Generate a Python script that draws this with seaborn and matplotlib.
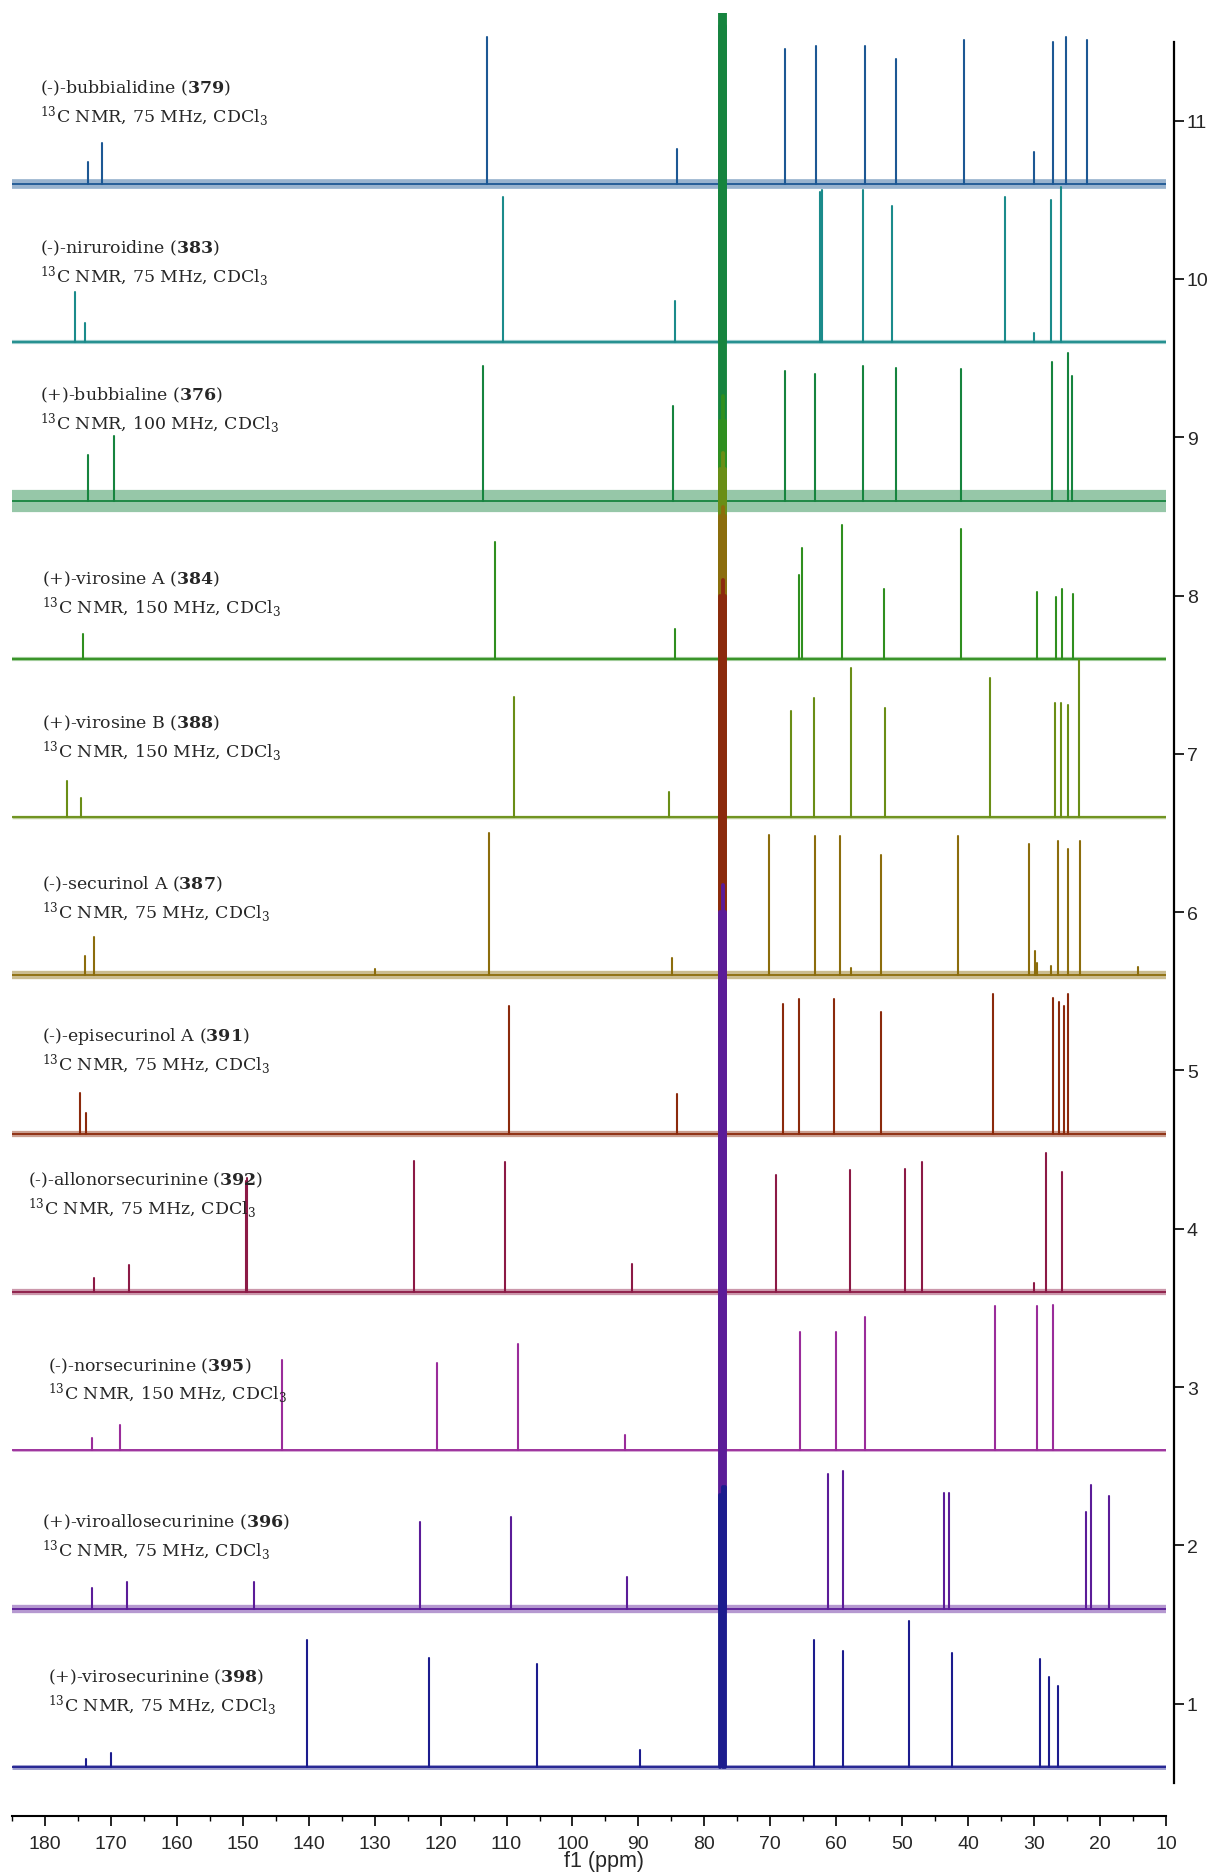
import numpy as np
import pandas as pd
import matplotlib
matplotlib.use("Agg")
import matplotlib.pyplot as plt
from matplotlib.ticker import MultipleLocator
import seaborn as sns

# --- spectra, top to bottom ---
COMPOUNDS = ["379", "383", "376", "384", "388", "387", "391", "392", "395", "396", "398"]
NAMES = ["(-)-bubbialidine", "(-)-niruroidine", "(+)-bubbialine", "(+)-virosine A",
         "(+)-virosine B", "(-)-securinol A", "(-)-episecurinol A", "(-)-allonorsecurinine",
         "(-)-norsecurinine", "(+)-viroallosecurinine", "(+)-virosecurinine"]
FREQS = [75, 75, 100, 150, 150, 75, 75, 75, 150, 75, 75]
OFFSETS = [10.6, 9.6, 8.6, 7.6, 6.6, 5.6, 4.6, 3.6, 2.6, 1.6, 0.6]

# peak positions (ppm) and intensities (above own baseline)
PPM_379 = [173.5, 171.3, 113.0, 84.2, 67.7, 63.0, 55.7, 51.0, 40.7, 30.0, 27.1, 25.2, 21.9]
H_379 = [0.14, 0.26, 0.93, 0.22, 0.85, 0.87, 0.87, 0.79, 0.91, 0.20, 0.90, 0.93, 0.91]

PPM_383 = [175.5, 174.0, 110.6, 84.5, 62.5, 62.2, 55.9, 51.6, 34.4, 30.0, 27.5, 25.9]
H_383 = [0.32, 0.12, 0.92, 0.26, 0.95, 0.96, 0.96, 0.86, 0.92, 0.06, 0.90, 0.98]

PPM_376 = [173.5, 169.5, 113.5, 84.7, 67.7, 63.2, 55.9, 51.0, 41.1, 27.3, 24.9, 24.3]
H_376 = [0.29, 0.41, 0.85, 0.60, 0.82, 0.80, 0.85, 0.84, 0.83, 0.875, 0.935, 0.79]

PPM_384 = [174.2, 111.7, 84.5, 65.6, 65.2, 59.2, 52.8, 41.1, 29.5, 26.7, 25.8, 24.1]
H_384 = [0.16, 0.74, 0.19, 0.53, 0.70, 0.845, 0.44, 0.82, 0.42, 0.39, 0.44, 0.41]

PPM_388 = [176.7, 174.6, 108.8, 85.3, 66.8, 63.3, 57.7, 52.6, 36.7, 26.8, 25.9, 24.8, 23.2]
H_388 = [0.23, 0.12, 0.76, 0.16, 0.67, 0.75, 0.94, 0.69, 0.88, 0.72, 0.72, 0.71, 0.99]

PPM_387 = [174.0, 172.6, 130.0, 112.6, 84.9, 70.2, 63.2, 59.4, 57.7, 53.2, 41.6, 30.8,
           29.9, 29.5, 27.5, 26.4, 24.85, 23.1, 14.3]
H_387 = [0.12, 0.24, 0.04, 0.90, 0.11, 0.89, 0.88, 0.88, 0.05, 0.76, 0.88, 0.83,
         0.155, 0.08, 0.06, 0.85, 0.80, 0.85, 0.055]

PPM_391 = [174.7, 173.8, 109.7, 84.2, 68.0, 65.7, 60.3, 53.2, 36.2, 27.1, 26.2, 25.4, 24.85]
H_391 = [0.26, 0.13, 0.81, 0.25, 0.82, 0.85, 0.85, 0.77, 0.88, 0.86, 0.83, 0.81, 0.88]

PPM_392 = [172.6, 167.3, 149.5, 149.3, 124.0, 110.3, 90.9, 69.1, 57.9, 49.6, 47.0, 30.0, 28.2, 25.8]
H_392 = [0.09, 0.17, 0.70, 0.72, 0.83, 0.82, 0.18, 0.74, 0.77, 0.78, 0.82, 0.06, 0.88, 0.76]

PPM_395 = [172.9, 168.6, 144.1, 120.6, 108.3, 92.1, 65.5, 60.1, 55.7, 36.0, 29.6, 27.1]
H_395 = [0.08, 0.16, 0.57, 0.55, 0.67, 0.10, 0.75, 0.75, 0.84, 0.91, 0.91, 0.92]

PPM_396 = [172.8, 167.5, 148.3, 123.1, 109.3, 91.8, 61.2, 59.0, 43.6, 42.9, 22.2, 21.3, 18.6]
H_396 = [0.13, 0.17, 0.17, 0.55, 0.58, 0.20, 0.85, 0.87, 0.73, 0.73, 0.61, 0.78, 0.71]

PPM_398 = [173.7, 170.0, 140.3, 121.7, 105.4, 89.8, 63.3, 59.0, 49.0, 42.5, 29.1, 27.8, 26.4]
H_398 = [0.05, 0.09, 0.80, 0.69, 0.65, 0.11, 0.80, 0.73, 0.92, 0.72, 0.68, 0.57, 0.51]

PEAK_PPM = [PPM_379, PPM_383, PPM_376, PPM_384, PPM_388, PPM_387, PPM_391, PPM_392, PPM_395, PPM_396, PPM_398]
PEAK_H = [H_379, H_383, H_376, H_384, H_388, H_387, H_391, H_392, H_395, H_396, H_398]

# CDCl3 triplet
SOLVENT_PPM = [77.6, 77.2, 76.8]
SOLVENT_H = [[1.0, 1.0, 1.0], [1.0, 1.0, 1.0], [3.2, 3.2, 3.2], [1.5, 1.66, 1.5],
             [2.2, 2.3, 2.2], [2.9, 2.96, 2.9], [3.4, 3.5, 3.4], [2.0, 2.1, 2.0],
             [2.6, 2.8, 2.6], [4.4, 4.57, 4.4], [1.72, 1.77, 1.77]]

# --- styling ---
COLORS = ["#1d5894", "#1b8b8b", "#16843e", "#2f8f1f", "#6a8e16", "#8c6d0c",
          "#8b2a0c", "#8c1a46", "#9a2c9a", "#5b1c98", "#1c1c8e"]
NOISE_LW = [7, 3, 16, 3, 2.5, 6, 4.5, 4.5, 2, 6, 3.5]
LABEL_X = [180.7, 180.7, 180.7, 180.4, 180.4, 180.4, 180.4, 182.5, 179.5, 180.4, 179.6]
LABEL_LIFT = [0.61, 0.60, 0.67, 0.51, 0.60, 0.58, 0.62, 0.71, 0.54, 0.55, 0.57]

sns.set_theme(style="white")
plt.rcParams["font.family"] = ["DejaVu Serif"]
plt.rcParams["mathtext.fontset"] = "dejavuserif"

fig = plt.figure(figsize=(12.1, 18.74), dpi=100)
ax = fig.add_axes([0.0099, 0.0304, 0.9537, 0.9621])

for i, comp in enumerate(COMPOUNDS):
    base = OFFSETS[i]
    col = COLORS[i]
    z = 2 + i
    # baseline with noise band
    ax.hlines(base, 185, 10, color=col, lw=NOISE_LW[i], alpha=0.45, zorder=z)
    ax.hlines(base, 185, 10, color=col, lw=1.3, zorder=z)

    rows = []
    for j, (p, h) in enumerate(zip(PEAK_PPM[i], PEAK_H[i])):
        rows.append({"ppm": p, "y": base, "seg": j})
        rows.append({"ppm": p, "y": base + h, "seg": j})
    seg_df = pd.DataFrame(rows)
    sns.lineplot(data=seg_df, x="ppm", y="y", units="seg", estimator=None, sort=False,
                 color=col, lw=1.5, ax=ax, zorder=z)

    srows = []
    for j, (p, h) in enumerate(zip(SOLVENT_PPM, SOLVENT_H[i])):
        srows.append({"ppm": p, "y": base, "seg": j})
        srows.append({"ppm": p, "y": base + h, "seg": j})
    sol_df = pd.DataFrame(srows)
    sns.lineplot(data=sol_df, x="ppm", y="y", units="seg", estimator=None, sort=False,
                 color=col, lw=2.8, ax=ax, zorder=z)

    ty = base + LABEL_LIFT[i]
    ax.text(LABEL_X[i], ty, f"{NAMES[i]} ($\\mathbf{{{comp}}}$)", fontsize=12.5,
            ha="left", va="center", zorder=20)
    ax.text(LABEL_X[i], ty - 0.175, f"$^{{13}}$C NMR, {FREQS[i]} MHz, CDCl$_3$",
            fontsize=12.5, ha="left", va="center", zorder=20)

ax.set_xlim(185, 10)
ax.set_ylim(0.29, 11.68)

for s in ["top", "left"]:
    ax.spines[s].set_visible(False)
ax.spines["bottom"].set_color("black")
ax.spines["bottom"].set_linewidth(1.5)
ax.spines["right"].set_color("black")
ax.spines["right"].set_linewidth(1.6)
ax.spines["right"].set_position(("outward", 6))
ax.spines["right"].set_bounds(0.5, 11.5)

tick_font = {"family": ["Liberation Sans", "DejaVu Sans"], "size": 14}
ax.xaxis.set_major_locator(MultipleLocator(10))
ax.xaxis.set_minor_locator(MultipleLocator(5))
ax.set_xticks(np.arange(10, 181, 10))
ax.set_xticklabels([str(v) for v in range(10, 181, 10)], fontdict=tick_font)
ax.tick_params(axis="x", which="major", direction="out", length=7, width=1.2,
               color="black", pad=7, bottom=True)
ax.tick_params(axis="x", which="minor", direction="out", length=3.5, width=1.0,
               color="black", bottom=True)

ax.yaxis.tick_right()
ax.set_yticks(range(1, 12))
ax.set_yticklabels([str(v) for v in range(1, 12)], fontdict=tick_font)
ax.tick_params(axis="y", which="major", direction="out", length=7, width=1.2,
               color="black", pad=2, right=True, left=False)
ax.set_ylabel("")
ax.set_xlabel("f1 (ppm)", fontdict={"family": ["Liberation Sans", "DejaVu Sans"], "size": 15.5})
ax.xaxis.set_label_coords(0.513, -0.019)
ax.grid(False)

fig.savefig("out.png", dpi=100, facecolor="white")
